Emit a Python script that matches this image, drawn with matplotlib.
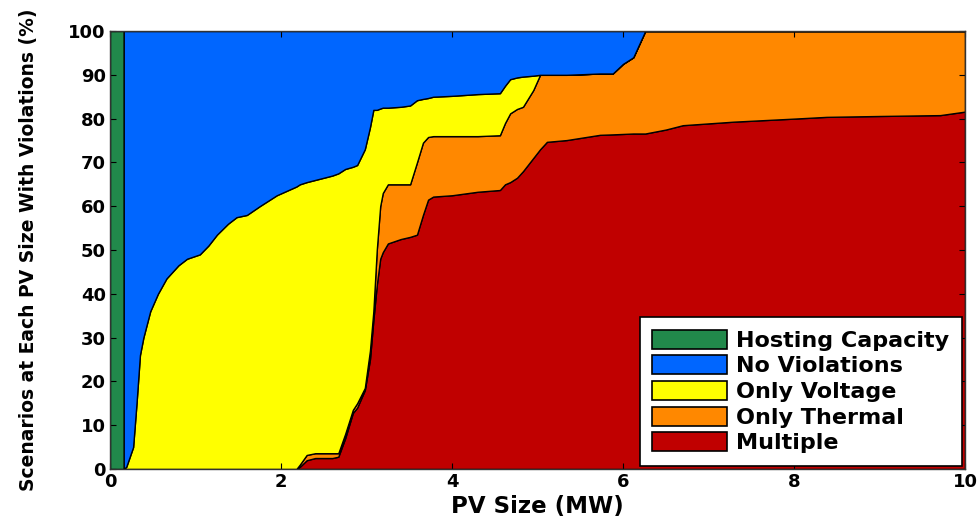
import matplotlib
matplotlib.use("Agg")
import matplotlib.pyplot as plt
import numpy as np
from matplotlib.patches import Patch

# PV size steps (MW) and share of scenarios (%) in each violation class
hosting_capacity = 0.16
pv_size = [0.16, 0.19, 0.27, 0.31, 0.35, 0.39, 0.47, 0.56, 0.66, 0.80,
           0.90, 1.05, 1.15, 1.25, 1.38, 1.48, 1.60, 1.75, 1.95, 2.18,
           2.22, 2.30, 2.40, 2.60, 2.67, 2.75, 2.84, 2.89, 2.98, 3.04,
           3.08, 3.12, 3.16, 3.19, 3.25, 3.40, 3.51, 3.59, 3.66, 3.72,
           3.78, 4.00, 4.30, 4.56, 4.62, 4.68, 4.76, 4.83, 4.95, 5.03,
           5.11, 5.34, 5.73, 5.88, 6.00, 6.12, 6.26, 6.50, 6.70, 7.29,
           8.00, 8.38, 9.00, 9.71, 10.0]
multiple = [0, 0, 0, 0, 0, 0, 0, 0, 0, 0,
            0, 0, 0, 0, 0, 0, 0, 0, 0, 0,
            0.5, 2, 2.5, 2.5, 2.8, 7, 12.8, 14, 18, 25,
            34, 42, 48, 49.5, 51.5, 52.5, 53, 53.5, 58, 61.5,
            62.2, 62.5, 63.3, 63.7, 65, 65.5, 66.5, 68, 71, 73,
            74.7, 75.1, 76.3, 76.4, 76.5, 76.6, 76.6, 77.5, 78.5, 79.3,
            80, 80.4, 80.6, 80.8, 81.6]
only_thermal = [0, 0, 0, 0, 0, 0, 0, 0, 0, 0,
                0, 0, 0, 0, 0, 0, 0, 0, 0, 0,
                0.5, 1.2, 1.1, 1.1, 0.8, 1, 0.7, 1, 0.5, 2,
                2, 8, 12, 13.5, 13.5, 12.5, 12, 16.5, 16.5, 14.3,
                13.8, 13.5, 12.7, 12.5, 14, 15.7, 15.7, 14.7, 15.5, 17,
                15.3, 14.9, 14, 13.9, 16, 17.4, 23.4, 22.5, 21.5, 20.7,
                20, 19.6, 19.4, 19.2, 18.4]
only_voltage = [0, 0.5, 5, 15, 26, 30, 36, 40, 43.5, 46.5,
                48, 49, 51, 53.5, 56, 57.5, 58, 60, 62.5, 64.5,
                64, 62.3, 62.4, 63.4, 63.9, 60.5, 55.5, 54.4, 54.5, 51,
                46, 32, 22.3, 19.5, 17.5, 17.7, 18, 14.2, 10, 8.9,
                9, 9.2, 9.6, 9.6, 8.5, 7.8, 7.2, 6.9, 3.3, 0,
                0, 0, 0, 0, 0, 0, 0, 0, 0, 0,
                0, 0, 0, 0, 0]

labels = ["Hosting Capacity", "No Violations", "Only Voltage", "Only Thermal", "Multiple"]
colors = ["#21894B", "#0066FF", "#FFFF00", "#FF8800", "#C00000"]

no_violations = 100 - np.array(multiple) - np.array(only_thermal) - np.array(only_voltage)

plt.rcParams['font.family'] = ['DejaVu Sans']
fig = plt.figure(figsize=(9.77, 5.24), dpi=100)
ax = fig.add_axes([0.1126, 0.105, 0.8751, 0.8358])

ax.fill_between([0, hosting_capacity], 0, 100, facecolor=colors[0],
                edgecolor="black", linewidth=1.0)
ax.stackplot(pv_size, multiple, only_thermal, only_voltage, no_violations,
             colors=[colors[4], colors[3], colors[2], colors[1]],
             edgecolor="black", linewidth=1.0)

ax.set_xlim(0, 10)
ax.set_ylim(0, 100)
ax.set_xticks(range(0, 11, 2))
ax.set_yticks(range(0, 101, 10))
ax.tick_params(direction="in", top=True, right=True, length=4,
               labelsize=13, pad=3)
for lbl in ax.get_xticklabels() + ax.get_yticklabels():
    lbl.set_fontweight("bold")
for s in ax.spines.values():
    s.set_linewidth(1.0)
    s.set_color("#333333")

ax.set_xlabel("PV Size (MW)", fontsize=16.5, fontweight="bold", labelpad=3)
ax.set_ylabel("Scenarios at Each PV Size With Violations (%)", fontsize=13.5,
              fontweight="bold", labelpad=22)

handles = [Patch(facecolor=c, edgecolor="black", linewidth=1.2) for c in colors]
leg = ax.legend(handles, labels, loc="lower right",
                prop={"weight": "bold", "size": 16},
                frameon=True, fancybox=False, framealpha=1,
                edgecolor="black", handlelength=3.4, handleheight=0.95,
                handletextpad=0.4, labelspacing=0.2, borderpad=0.55,
                borderaxespad=0.15)
leg.get_frame().set_linewidth(1.2)

fig.savefig("out.png", dpi=100)
